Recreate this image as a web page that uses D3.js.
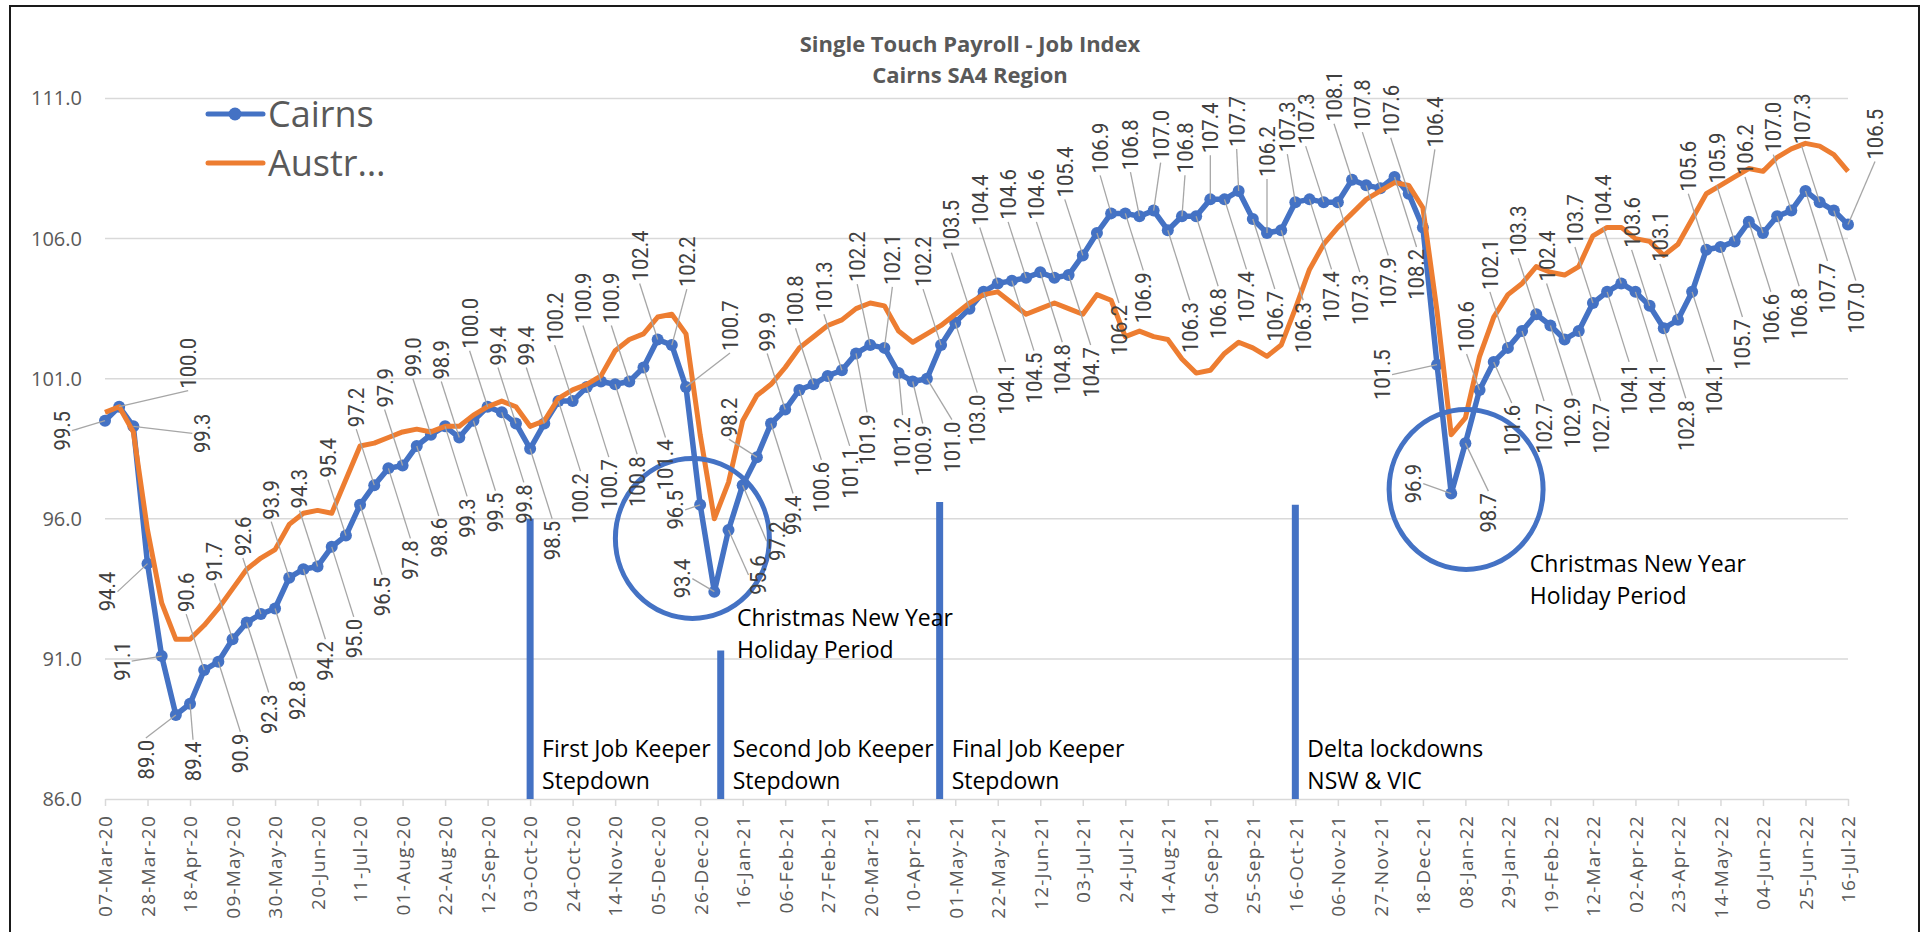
<!DOCTYPE html>
<html lang="en">
<head>
<meta charset="UTF-8">
<title>Single Touch Payroll - Job Index</title>
<script src="https://cdn.jsdelivr.net/npm/d3@7"></script>
<style>
  body { margin: 0; background: #fff; }
  .grid line { stroke: #d9d9d9; stroke-width: 1.5px; }
  .axis path, .axis line { stroke: #d9d9d9; stroke-width: 1.5px; }
  .axis text { fill: #595959; font-family: "Open Sans", sans-serif; }
  .dlabel { fill: #404040; font-family: Roboto, sans-serif; font-size: 22px; }
  .leader { stroke: #a6a6a6; stroke-width: 1.3px; fill: none; }
  .note { fill: #000; font-family: "Open Sans", sans-serif; font-size: 23px; }
</style>
</head>
<body>
<svg id="chart" width="1925" height="932"></svg>
<script>
// weekly categories
const weeks = [
  "07-Mar-20","14-Mar-20","21-Mar-20","28-Mar-20","04-Apr-20","11-Apr-20","18-Apr-20","25-Apr-20",
  "02-May-20","09-May-20","16-May-20","23-May-20","30-May-20","06-Jun-20","13-Jun-20","20-Jun-20",
  "27-Jun-20","04-Jul-20","11-Jul-20","18-Jul-20","25-Jul-20","01-Aug-20","08-Aug-20","15-Aug-20",
  "22-Aug-20","29-Aug-20","05-Sep-20","12-Sep-20","19-Sep-20","26-Sep-20","03-Oct-20","10-Oct-20",
  "17-Oct-20","24-Oct-20","31-Oct-20","07-Nov-20","14-Nov-20","21-Nov-20","28-Nov-20","05-Dec-20",
  "12-Dec-20","19-Dec-20","26-Dec-20","02-Jan-21","09-Jan-21","16-Jan-21","23-Jan-21","30-Jan-21",
  "06-Feb-21","13-Feb-21","20-Feb-21","27-Feb-21","06-Mar-21","13-Mar-21","20-Mar-21","27-Mar-21",
  "03-Apr-21","10-Apr-21","17-Apr-21","24-Apr-21","01-May-21","08-May-21","15-May-21","22-May-21",
  "29-May-21","05-Jun-21","12-Jun-21","19-Jun-21","26-Jun-21","03-Jul-21","10-Jul-21","17-Jul-21",
  "24-Jul-21","31-Jul-21","07-Aug-21","14-Aug-21","21-Aug-21","28-Aug-21","04-Sep-21","11-Sep-21",
  "18-Sep-21","25-Sep-21","02-Oct-21","09-Oct-21","16-Oct-21","23-Oct-21","30-Oct-21","06-Nov-21",
  "13-Nov-21","20-Nov-21","27-Nov-21","04-Dec-21","11-Dec-21","18-Dec-21","25-Dec-21","01-Jan-22",
  "08-Jan-22","15-Jan-22","22-Jan-22","29-Jan-22","05-Feb-22","12-Feb-22","19-Feb-22","26-Feb-22",
  "05-Mar-22","12-Mar-22","19-Mar-22","26-Mar-22","02-Apr-22","09-Apr-22","16-Apr-22","23-Apr-22",
  "30-Apr-22","07-May-22","14-May-22","21-May-22","28-May-22","04-Jun-22","11-Jun-22","18-Jun-22",
  "25-Jun-22","02-Jul-22","09-Jul-22","16-Jul-22"
];

const cairns = [
  99.5,100.0,99.3,94.4,91.1,89.0,89.4,90.6,90.9,91.7,92.3,92.6,92.8,93.9,94.2,94.3,
  95.0,95.4,96.5,97.2,97.8,97.9,98.6,99.0,99.3,98.9,99.5,100.0,99.8,99.4,98.5,99.4,
  100.2,100.2,100.7,100.9,100.8,100.9,101.4,102.4,102.2,100.7,96.5,93.4,95.6,97.2,98.2,99.4,
  99.9,100.6,100.8,101.1,101.3,101.9,102.2,102.1,101.2,100.9,101.0,102.2,103.0,103.5,104.1,104.4,
  104.5,104.6,104.8,104.6,104.7,105.4,106.2,106.9,106.9,106.8,107.0,106.3,106.8,106.8,107.4,107.4,
  107.7,106.7,106.2,106.3,107.3,107.4,107.3,107.3,108.1,107.9,107.8,108.2,107.6,106.4,101.5,96.9,
  98.7,100.6,101.6,102.1,102.7,103.3,102.9,102.4,102.7,103.7,104.1,104.4,104.1,103.6,102.8,103.1,
  104.1,105.6,105.7,105.9,106.6,106.2,106.8,107.0,107.7,107.3,107.0,106.5
];

const australia = [
  99.8,100.0,99.1,95.6,93.0,91.7,91.7,92.2,92.8,93.5,94.2,94.6,94.9,95.8,96.2,96.3,
  96.2,97.4,98.6,98.7,98.9,99.1,99.2,99.1,99.3,99.3,99.7,100.0,100.2,100.0,99.3,99.5,
  100.3,100.6,100.8,101.1,102.0,102.4,102.6,103.2,103.3,102.6,99.0,96.0,97.3,99.5,100.4,100.8,
  101.4,102.1,102.5,102.9,103.1,103.5,103.7,103.6,102.7,102.3,102.6,102.9,103.3,103.7,104.0,104.1,
  103.7,103.3,103.5,103.7,103.5,103.3,104.0,103.8,102.5,102.7,102.5,102.4,101.7,101.2,101.3,101.9,
  102.3,102.1,101.8,102.2,103.5,104.9,105.8,106.4,106.9,107.4,107.7,108.0,107.9,107.1,103.4,99.0,
  99.6,101.8,103.2,104.0,104.4,105.0,104.8,104.7,105.0,106.1,106.4,106.4,106.0,105.9,105.4,105.8,
  106.7,107.6,107.9,108.2,108.5,108.4,108.9,109.2,109.4,109.3,109.0,108.4
];

const yTicks = [86, 91, 96, 101, 106, 111];
const tickLabels = weeks.filter((d, i) => i % 3 === 0);

// where each Cairns data label sits: A above, B below, L left, R right
const labelSide =
  "LARLLBBABA" + "BABABABABA" + "BABABABABA" + "BABABABABA" + "AALLRRABAB" +
  "ABABAABBBA" + "BABABABABA" + "BABAABABAB" + "ABABABABAB" + "ABAALLBABA" +
  "BABABABABA" + "BABABABABA" + "BABA";
// hand-placed labels: [dx, dy] from the point
const labelNudge = {
  0: [-43, 10], 1: [69, -18], 2: [69, 7], 3: [-40, 28], 4: [-40, 5], 5: [-30, 25], 6: [3, 38],
  40: [15, -58], 41: [44, -36], 42: [-25, 5], 43: [-32, -13], 44: [30, 45], 45: [34, 56],
  46: [-28, -20], 53: [11, 61], 54: [-13, -63], 55: [8, -63], 56: [4, 44], 57: [10, 44], 58: [25, 43],
  71: [-11, -40], 72: [18, 59], 73: [-9, -46], 74: [7, -50], 76: [3, -43], 78: [0, -46],
  80: [-2, -44], 82: [0, -56], 84: [-8, -50],
  93: [12, -80], 94: [-55, 10], 95: [-38, -10], 96: [23, 50], 97: [-13, -38],
  98: [18, 43], 123: [27, -65]
};
const sideOffset = { A: [-18, -58], B: [22, 72], L: [-40, 0], R: [35, 42] };

const stepdowns = [
  { idx: 30, top: 96.0, lines: ["First Job Keeper", "Stepdown"] },
  { idx: 43.45, top: 91.3, lines: ["Second Job Keeper", "Stepdown"] },
  { idx: 58.9, top: 96.6, lines: ["Final Job Keeper", "Stepdown"] },
  { idx: 84, top: 96.5, lines: ["Delta lockdowns", "NSW & VIC"] }
];
const holidays = [
  { idx: 41.45, value: 95.3, textIdx: 44.6, textValue: 92.17 },
  { idx: 96.05, value: 97.05, textIdx: 100.55, textValue: 94.1 }
];

const svg = d3.select("#chart");
const x = d3.scaleLinear().domain([0, weeks.length - 1]).range([105, 1848]);
const y = d3.scaleLinear().domain([86, 111]).range([799, 98.5]);

// frame
svg.append("rect").attr("x", 10).attr("y", 6).attr("width", 1909).attr("height", 950)
  .attr("fill", "none").attr("stroke", "#1a1a1a").attr("stroke-width", 2);

// gridlines
svg.append("g").attr("class", "grid")
  .selectAll("line").data(yTicks.slice(1)).join("line")
  .attr("x1", x(0)).attr("x2", x(weeks.length - 1))
  .attr("y1", d => y(d)).attr("y2", d => y(d));

// y axis
const yAxis = svg.append("g").attr("class", "axis").attr("transform", `translate(${x(0)},0)`)
  .call(d3.axisLeft(y).tickValues(yTicks).tickFormat(d3.format(".1f")).tickSize(0).tickPadding(23));
yAxis.select(".domain").remove();
yAxis.selectAll("text").style("font-size", "20px");

// x axis
const xAxis = svg.append("g").attr("class", "axis").attr("transform", `translate(0,${y(86)})`)
  .call(d3.axisBottom(x).tickValues(d3.range(0, weeks.length, 3))
    .tickFormat((d, i) => tickLabels[i]).tickSize(7).tickSizeOuter(0));
xAxis.attr("font-size", null);
xAxis.selectAll("text")
  .style("font-size", "19px")
  .style("letter-spacing", "1.2px")
  .attr("text-anchor", "end")
  .attr("transform", "translate(0,16) rotate(-90)")
  .attr("x", 0).attr("y", 0).attr("dx", 0).attr("dy", "0.36em");

// stepdown bars
svg.append("g").selectAll("line").data(stepdowns).join("line")
  .attr("x1", d => x(d.idx)).attr("x2", d => x(d.idx))
  .attr("y1", d => y(d.top)).attr("y2", y(86))
  .attr("stroke", "#4472C4").attr("stroke-width", 7);

// series
const line = d3.line().x((d, i) => x(i)).y(d => y(d));
svg.append("path").datum(cairns).attr("d", line)
  .attr("fill", "none").attr("stroke", "#4472C4").attr("stroke-width", 5.5).attr("stroke-linejoin", "round");
svg.append("g").selectAll("circle").data(cairns).join("circle")
  .attr("cx", (d, i) => x(i)).attr("cy", d => y(d)).attr("r", 6).attr("fill", "#4472C4");
svg.append("path").datum(australia).attr("d", line)
  .attr("fill", "none").attr("stroke", "#ED7D31").attr("stroke-width", 5).attr("stroke-linejoin", "round");

// holiday ellipses
svg.append("g").selectAll("ellipse").data(holidays).join("ellipse")
  .attr("cx", d => x(d.idx)).attr("cy", d => y(d.value)).attr("rx", 77).attr("ry", 80)
  .attr("fill", "none").attr("stroke", "#4472C4").attr("stroke-width", 5);

// data labels with leader lines
const labels = cairns.map((v, i) => {
  const side = labelSide[i];
  const [dx, dy] = labelNudge[i] || sideOffset[side];
  const px = x(i), py = y(v);
  return { v, i, side, px, py, lx: px + dx, ly: py + dy };
});

const lg = svg.append("g");
lg.selectAll("path").data(labels).join("path").attr("class", "leader")
  .attr("d", d => {
    let ex = d.lx, ey = d.ly;
    if (d.side === "A") ey = d.ly + 2;
    else if (d.side === "B") ey = d.ly - 2;
    else if (d.side === "L") ex = d.lx + 10;
    else ex = d.lx - 10;
    return `M${d.px},${d.py}L${ex},${ey}`;
  });
lg.selectAll("text").data(labels).join("text").attr("class", "dlabel")
  .attr("transform", d => `translate(${d.lx},${d.ly}) rotate(-90) scale(0.92,1)`)
  .attr("text-anchor", d => d.side === "A" ? "start" : d.side === "B" ? "end" : "middle")
  .attr("dy", "0.36em")
  .text(d => d3.format(".1f")(d.v));

// notes
stepdowns.forEach(s => {
  const t = svg.append("text").attr("class", "note").attr("x", x(s.idx) + 12).attr("y", 757);
  s.lines.forEach((l, k) => t.append("tspan").attr("x", x(s.idx) + 12).attr("dy", k ? 32 : 0).text(l));
});
holidays.forEach(h => {
  const t = svg.append("text").attr("class", "note").attr("x", x(h.textIdx)).attr("y", y(h.textValue));
  ["Christmas New Year", "Holiday Period"].forEach((l, k) =>
    t.append("tspan").attr("x", x(h.textIdx)).attr("dy", k ? 32 : 0).text(l));
});

// title
const title = svg.append("text").attr("x", 970).attr("y", 52).attr("text-anchor", "middle")
  .style("font-family", "'Open Sans', sans-serif").style("font-weight", "bold")
  .style("font-size", "22px").style("fill", "#595959");
title.append("tspan").attr("x", 970).text("Single Touch Payroll - Job Index");
title.append("tspan").attr("x", 970).attr("dy", 31).text("Cairns SA4 Region");

// legend
const legend = svg.append("g");
const items = [
  { name: "Cairns", color: "#4472C4", marker: true, y: 114 },
  { name: "Austr\u2026", color: "#ED7D31", marker: false, y: 163 }
];
items.forEach(it => {
  legend.append("line").attr("x1", 208).attr("x2", 263).attr("y1", it.y).attr("y2", it.y)
    .attr("stroke", it.color).attr("stroke-width", 5).attr("stroke-linecap", "round");
  if (it.marker) legend.append("circle").attr("cx", 235).attr("cy", it.y).attr("r", 6.5).attr("fill", it.color);
  legend.append("text").attr("x", 268).attr("y", it.y + 13)
    .style("font-family", "'Open Sans', sans-serif").style("font-size", "36px").style("fill", "#595959")
    .text(it.name);
});
</script>
</body>
</html>
